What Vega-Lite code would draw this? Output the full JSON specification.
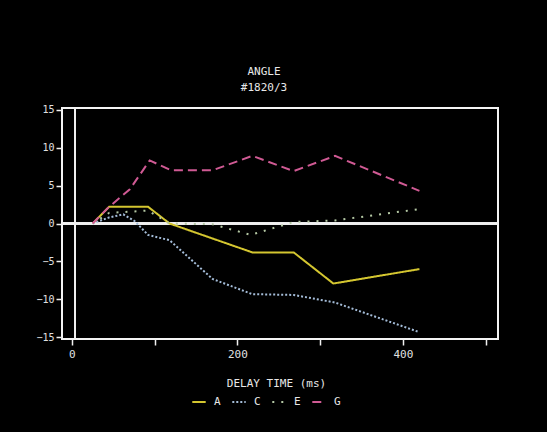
{
  "$schema": "https://vega.github.io/schema/vega-lite/v6.json",
  "width": 436,
  "height": 231,
  "autosize": {"type": "none"},
  "padding": {"left": 62, "top": 108, "right": 49, "bottom": 93},
  "background": "#000000",
  "title": {
    "text": ["ANGLE", "#1820/3"],
    "color": "#e8e8e8",
    "font": "DejaVu Sans Mono",
    "fontSize": 11,
    "fontWeight": "normal",
    "lineHeight": 16,
    "offset": 12,
    "anchor": "middle",
    "dx": -16
  },
  "config": {
    "view": {"stroke": "#f4f4f4", "strokeWidth": 2, "fill": "#000000"},
    "axis": {
      "grid": false,
      "domain": false,
      "tickColor": "#f0f0f0",
      "tickWidth": 1.5,
      "labelColor": "#e0e0e0",
      "labelFont": "DejaVu Sans Mono",
      "labelFontSize": 10,
      "labelOverlap": false,
      "labelFlush": false,
      "titleColor": "#e8e8e8",
      "titleFont": "DejaVu Sans Mono",
      "titleFontSize": 11,
      "titleFontWeight": "normal"
    },
    "legend": {
      "labelColor": "#e8e8e8",
      "labelFont": "DejaVu Sans Mono",
      "labelFontSize": 11
    }
  },
  "data": {
    "values": [
      {"series": "A", "t": 25, "v": 0},
      {"series": "A", "t": 45, "v": 2.2},
      {"series": "A", "t": 92, "v": 2.2},
      {"series": "A", "t": 118, "v": 0},
      {"series": "A", "t": 218, "v": -3.8},
      {"series": "A", "t": 268, "v": -3.8},
      {"series": "A", "t": 316, "v": -7.9},
      {"series": "A", "t": 420, "v": -6.0},
      {"series": "C", "t": 25, "v": 0},
      {"series": "C", "t": 45, "v": 0.8},
      {"series": "C", "t": 62, "v": 1.2},
      {"series": "C", "t": 76, "v": 0.3},
      {"series": "C", "t": 92, "v": -1.5},
      {"series": "C", "t": 118, "v": -2.2},
      {"series": "C", "t": 170, "v": -7.3},
      {"series": "C", "t": 218, "v": -9.3},
      {"series": "C", "t": 268, "v": -9.4},
      {"series": "C", "t": 318, "v": -10.4},
      {"series": "C", "t": 420, "v": -14.3},
      {"series": "E", "t": 25, "v": 0},
      {"series": "E", "t": 45, "v": 1.4},
      {"series": "E", "t": 92, "v": 1.7},
      {"series": "E", "t": 118, "v": 0},
      {"series": "E", "t": 170, "v": -0.1},
      {"series": "E", "t": 216, "v": -1.5},
      {"series": "E", "t": 268, "v": 0.2},
      {"series": "E", "t": 318, "v": 0.4},
      {"series": "E", "t": 420, "v": 1.9},
      {"series": "G", "t": 25, "v": 0},
      {"series": "G", "t": 45, "v": 2.2},
      {"series": "G", "t": 70, "v": 4.5},
      {"series": "G", "t": 94, "v": 8.3},
      {"series": "G", "t": 120, "v": 7.0},
      {"series": "G", "t": 170, "v": 7.0},
      {"series": "G", "t": 218, "v": 8.9},
      {"series": "G", "t": 268, "v": 6.9},
      {"series": "G", "t": 318, "v": 8.9},
      {"series": "G", "t": 420, "v": 4.3}
    ]
  },
  "encoding": {
    "x": {
      "field": "t",
      "type": "quantitative",
      "scale": {"domain": [-12, 515], "nice": false, "zero": false},
      "axis": {
        "values": [0, 100, 200, 300, 400, 500],
        "labelExpr": "datum.value % 200 == 0 ? datum.label : ''",
        "format": "d",
        "tickSize": 6,
        "labelPadding": 3,
        "labelFontSize": 11,
        "labelOverlap": false,
        "title": "DELAY TIME (ms)",
        "titlePadding": 18,
        "titleX": 214
      }
    },
    "y": {
      "field": "v",
      "type": "quantitative",
      "scale": {"domain": [-15.2, 15.2], "nice": false},
      "axis": {
        "values": [-15, -10, -5, 0, 5, 10, 15],
        "tickSize": 6,
        "labelPadding": 2,
        "labelOverlap": false,
        "labelFontSize": 10,
        "title": null
      }
    }
  },
  "layer": [
    {
      "mark": {"type": "rule", "color": "#f0f0f0", "strokeWidth": 1.5},
      "encoding": {"x": null, "y": {"datum": 0, "type": "quantitative"}}
    },
    {
      "mark": {"type": "rule", "color": "#f0f0f0", "strokeWidth": 1.5},
      "encoding": {"y": null, "x": {"datum": 4, "type": "quantitative"}}
    },
    {
      "mark": {"type": "line", "strokeWidth": 2},
      "encoding": {
        "color": {
          "field": "series",
          "type": "nominal",
          "scale": {"domain": ["A", "C", "E", "G"], "range": ["#d4c630", "#a4bcd8", "#b4c8a4", "#d05a94"]},
          "legend": {
            "title": null,
            "orient": "none",
            "direction": "horizontal",
            "legendX": 129,
            "legendY": 286,
            "symbolType": "stroke",
            "symbolSize": 180,
            "symbolStrokeWidth": 2,
            "labelOffset": 7,
            "columnPadding": 7
          }
        },
        "strokeDash": {
          "field": "series",
          "type": "nominal",
          "scale": {"domain": ["A", "C", "E", "G"], "range": [[1, 0], [2, 2], [2, 7], [9, 5]]},
          "legend": {
            "title": null,
            "orient": "none",
            "direction": "horizontal",
            "legendX": 129,
            "legendY": 286,
            "symbolType": "stroke",
            "symbolSize": 180,
            "symbolStrokeWidth": 2,
            "labelOffset": 7,
            "columnPadding": 7
          }
        }
      }
    }
  ]
}
